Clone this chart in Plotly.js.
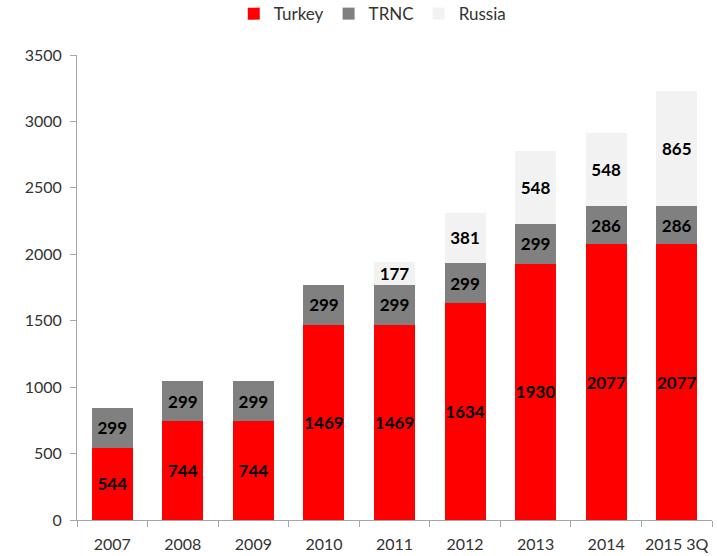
<!DOCTYPE html>
<html>
<head>
<meta charset="utf-8">
<script src="https://cdn.plot.ly/plotly-3.0.1.min.js"></script>
<style>html,body{margin:0;padding:0;background:#fff;}#chart{width:717px;height:556px;}</style>
</head>
<body>
<div id="chart"></div>
<script>
var categories = ["2007","2008","2009","2010","2011","2012","2013","2014","2015 3Q"];
var turkey = [544,744,744,1469,1469,1634,1930,2077,2077];
var trnc = [299,299,299,299,299,299,299,286,286];
var russia = [0,0,0,0,177,381,548,548,865];
var seriesNames = ["Turkey","TRNC","Russia"];
var seriesColors = ["#FF0000","#808080","#F2F2F2"];
var yTicks = [0,500,1000,1500,2000,2500,3000,3500];

var FONT = "Lato, 'Liberation Sans', sans-serif";
function mk(vals, i){
  return {
    type:"bar", x:categories, y:vals, name:seriesNames[i],
    marker:{color:seriesColors[i], line:{width:0}},
    text: vals.map(function(v){return v>0?String(v):"";}),
    textposition:"inside", insidetextanchor:"middle", constraintext:"none", textangle:0,
    textfont:{family:FONT, size:17, color:"#000", weight:"bold"},
    hoverinfo:"none", cliponaxis:false
  };
}
var data = [mk(turkey,0), mk(trnc,1), mk(russia,2)];
var layout = {
  width:717, height:556, barmode:"stack", bargap:0.42,
  margin:{l:77, r:5, t:55, b:36, autoexpand:false},
  paper_bgcolor:"#fff", plot_bgcolor:"#fff",
  font:{family:FONT, size:15, color:"#333"},
  showlegend:true,
  legend:{orientation:"h", x:0.465, xanchor:"center", y:1.088, yanchor:"middle",
    font:{family:FONT, size:17, color:"#333"}, itemwidth:30, traceorder:"normal", tracegroupgap:0},
  xaxis:{type:"category", showgrid:false, showline:true, linecolor:"#a6a6a6", linewidth:1,
    ticks:"outside", tickson:"boundaries", ticklen:6, tickcolor:"#a6a6a6", tickangle:0,
    ticklabelstandoff:10,
    tickfont:{family:FONT, size:16, color:"#333"}, zeroline:false, fixedrange:true},
  yaxis:{range:[0,3500], tickvals:yTicks, ticktext:yTicks.map(String), showgrid:false,
    showline:true, linecolor:"#a6a6a6", linewidth:1, ticks:"outside", ticklen:6, tickcolor:"#a6a6a6",
    ticklabelstandoff:5,
    tickfont:{family:FONT, size:16, color:"#333"}, zeroline:false, fixedrange:true}
};
Plotly.newPlot("chart", data, layout, {displayModeBar:false, staticPlot:true});
</script>
</body>
</html>
